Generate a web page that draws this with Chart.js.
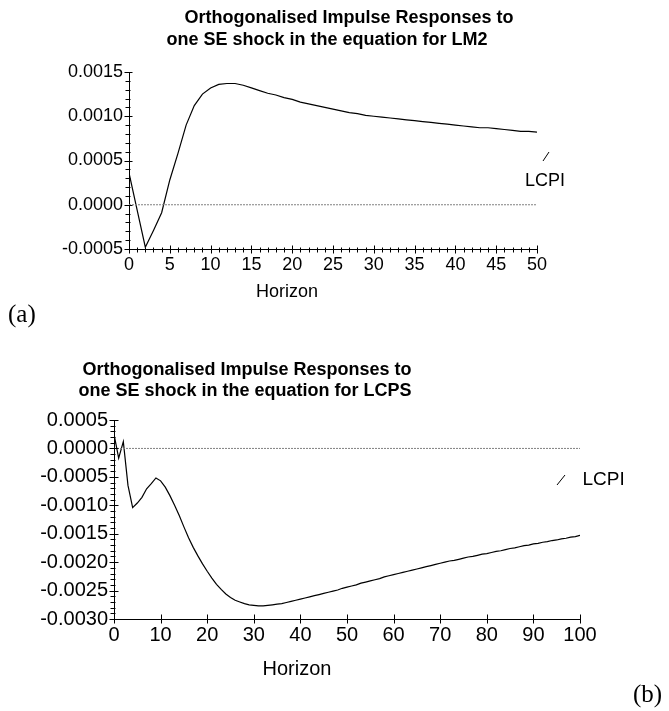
<!DOCTYPE html>
<html>
<head>
<meta charset="utf-8">
<script src="https://cdn.jsdelivr.net/npm/chart.js@4"></script>
<style>
  html, body { margin: 0; padding: 0; background: #fff; }
  #wrap { position: relative; width: 669px; height: 711px; }
  canvas { position: absolute; left: 0; }
</style>
</head>
<body>
<div id="wrap">
  <canvas id="chartA" width="669" height="330" style="top:0px"></canvas>
  <canvas id="chartB" width="669" height="381" style="top:330px"></canvas>
</div>
<script>
// (a) response of LCPI to LM2 shock, horizons 0..50
const horizonsA = Array.from({ length: 51 }, (_, i) => i);
const lcpiToLM2 = [
  0.00036, -0.00006, -0.00048, -0.00029, -0.00009, 0.00028, 0.00058, 0.00090, 0.00112, 0.00125,
  0.00132, 0.00136, 0.00137, 0.00137, 0.00135, 0.00132, 0.00129, 0.00126, 0.00124, 0.00121,
  0.00119, 0.00116, 0.00114, 0.00112, 0.00110, 0.00108, 0.00106, 0.00104, 0.00103, 0.00101,
  0.00100, 0.00099, 0.00098, 0.00097, 0.00096, 0.00095, 0.00094, 0.00093, 0.00092, 0.00091,
  0.00090, 0.00089, 0.00088, 0.00087, 0.00087, 0.00086, 0.00085, 0.00084, 0.00083, 0.00083,
  0.00082
];

// (b) response of LCPI to LCPS shock, horizons 0..100
const horizonsB = Array.from({ length: 101 }, (_, i) => i);
const lcpiToLCPS = [
  0.00025, -0.00017, 0.00012, -0.00065, -0.00104, -0.00096, -0.00086, -0.00071, -0.00062, -0.00052,
  -0.00057, -0.00068, -0.00083, -0.00100, -0.00118, -0.00138, -0.00157, -0.00174, -0.00189, -0.00203,
  -0.00216, -0.00228, -0.00239, -0.00248, -0.00256, -0.00262, -0.00267, -0.00270, -0.00273, -0.00275,
  -0.00276, -0.00277, -0.00277, -0.00276, -0.00275, -0.00274, -0.00273, -0.00271, -0.00269, -0.00267,
  -0.00265, -0.00263, -0.00261, -0.00259, -0.00257, -0.00255, -0.00253, -0.00251, -0.00249, -0.00246,
  -0.00244, -0.00242, -0.00240, -0.00237, -0.00235, -0.00233, -0.00231, -0.00229, -0.00226, -0.00224,
  -0.00222, -0.00220, -0.00218, -0.00216, -0.00214, -0.00212, -0.00210, -0.00208, -0.00206, -0.00204,
  -0.00202, -0.00200, -0.00198, -0.00197, -0.00195, -0.00193, -0.00191, -0.00190, -0.00188, -0.00186,
  -0.00185, -0.00183, -0.00181, -0.00180, -0.00178, -0.00176, -0.00175, -0.00173, -0.00171, -0.00170,
  -0.00168, -0.00167, -0.00165, -0.00164, -0.00162, -0.00161, -0.00159, -0.00158, -0.00156, -0.00155,
  -0.00153
];

const titleA = ['Orthogonalised Impulse Responses to', 'one SE shock in the equation for LM2'];
const titleB = ['Orthogonalised Impulse Responses to', 'one SE shock in the equation for LCPS'];
const seriesName = 'LCPI';
const xTitle = 'Horizon';

const SANS = '"Liberation Sans", Arial, Helvetica, sans-serif';
const SERIF = '"Liberation Serif", "Times New Roman", serif';

function fmt(v) {
  if (Math.abs(v) < 1e-10) return '0.0000';
  return v.toFixed(4);
}

// draws crossing tick marks (major + minor), titles, legend mark and panel tag
const decorations = {
  id: 'decorations',
  afterDraw(chart, args, o) {
    const ctx = chart.ctx;
    const xs = chart.scales.x, ys = chart.scales.y;
    ctx.save();
    ctx.strokeStyle = '#000';
    ctx.lineWidth = 1;

    const axisY = Math.round(xs.top) + 0.5;
    let n = Math.round((xs.max - xs.min) / o.xMinor);
    let every = Math.round(o.xMajor / o.xMinor);
    for (let i = 0; i <= n; i++) {
      const px = Math.round(xs.getPixelForValue(xs.min + i * o.xMinor)) + 0.5;
      const len = i % every === 0 ? o.majLen : o.minLen;
      ctx.beginPath();
      ctx.moveTo(px, axisY - len[0]);
      ctx.lineTo(px, axisY + len[1]);
      ctx.stroke();
    }

    const axisX = Math.round(ys.right) - 0.5;
    n = Math.round((ys.max - ys.min) / o.yMinor);
    every = Math.round(o.yMajor / o.yMinor);
    for (let i = 0; i <= n; i++) {
      const py = Math.round(ys.getPixelForValue(ys.min + i * o.yMinor)) + 0.5;
      const len = i % every === 0 ? o.majLen : o.minLen;
      ctx.beginPath();
      ctx.moveTo(axisX - len[1], py);
      ctx.lineTo(axisX + len[0], py);
      ctx.stroke();
    }

    // legend: slanted line mark + label
    ctx.beginPath();
    ctx.moveTo(o.legend.mark[0], o.legend.mark[1]);
    ctx.lineTo(o.legend.mark[2], o.legend.mark[3]);
    ctx.stroke();

    ctx.fillStyle = '#000';
    ctx.textBaseline = 'alphabetic';
    ctx.font = o.legend.size + 'px ' + SANS;
    ctx.textAlign = 'left';
    ctx.fillText(seriesName, o.legend.x, o.legend.y);

    ctx.textAlign = 'center';
    ctx.font = 'bold ' + o.titleSize + 'px ' + SANS;
    o.title.forEach((line, k) => ctx.fillText(line, o.titlePos[k][0], o.titlePos[k][1]));

    ctx.font = o.xTitleSize + 'px ' + SANS;
    ctx.fillText(xTitle, o.xTitlePos[0], o.xTitlePos[1]);

    ctx.textAlign = 'left';
    ctx.font = '25px ' + SERIF;
    ctx.fillText(o.tag, o.tagPos[0], o.tagPos[1]);
    ctx.restore();
  }
};

function makeChart(id, horizons, values, cfg) {
  const points = horizons.map((h, i) => ({ x: h, y: values[i] }));
  const zero = [{ x: cfg.xMin, y: 0 }, { x: cfg.xMax, y: 0 }];
  return new Chart(document.getElementById(id), {
    type: 'line',
    data: {
      datasets: [
        { label: 'zero', data: zero, borderColor: '#808080', borderWidth: 1, borderDash: [2, 1], pointRadius: 0 },
        { label: seriesName, data: points, borderColor: '#000', borderWidth: 1.2, pointRadius: 0, tension: 0 }
      ]
    },
    options: {
      responsive: false,
      animation: false,
      layout: { padding: { top: cfg.top, right: cfg.right, left: 0, bottom: 0 } },
      plugins: {
        legend: { display: false },
        tooltip: { enabled: false },
        decorations: cfg.deco
      },
      scales: {
        x: {
          type: 'linear', min: cfg.xMin, max: cfg.xMax,
          grid: { display: false, drawTicks: false },
          border: { display: true, color: '#000', width: 1 },
          ticks: { stepSize: cfg.xStep, autoSkip: false, maxRotation: 0, padding: cfg.xPad, color: '#000',
                   font: { family: SANS, size: cfg.tickSize } },
          afterFit: s => { s.height = cfg.xHeight; }
        },
        y: {
          min: cfg.yMin, max: cfg.yMax,
          grid: { display: false, drawTicks: false },
          border: { display: true, color: '#000', width: 1 },
          ticks: { stepSize: cfg.yStep, padding: 6, color: '#000', callback: v => fmt(v),
                   font: { family: SANS, size: cfg.tickSize } },
          afterFit: s => { s.width = cfg.yWidth; }
        }
      }
    },
    plugins: [decorations]
  });
}

makeChart('chartA', horizonsA, lcpiToLM2, {
  xMin: 0, xMax: 50, xStep: 5, yMin: -0.0005, yMax: 0.0015, yStep: 0.0005,
  top: 72, right: 132, xHeight: 81, yWidth: 129, xPad: 5, tickSize: 18,
  deco: {
    xMinor: 1, xMajor: 5, yMinor: 0.0001, yMajor: 0.0005,
    majLen: [4, 4], minLen: [2, 3],
    legend: { mark: [543, 161, 549, 152], x: 525, y: 185.5, size: 18 },
    title: titleA, titleSize: 18, titlePos: [[349, 23], [327, 45]],
    xTitleSize: 18, xTitlePos: [287, 297.3],
    tag: '(a)', tagPos: [8, 322]
  }
});

makeChart('chartB', horizonsB, lcpiToLCPS, {
  xMin: 0, xMax: 100, xStep: 10, yMin: -0.003, yMax: 0.0005, yStep: 0.0005,
  top: 90, right: 89, xHeight: 92, yWidth: 114, xPad: 4, tickSize: 20,
  deco: {
    xMinor: 10, xMajor: 10, yMinor: 0.0001, yMajor: 0.0005,
    majLen: [5, 4], minLen: [2, 3],
    legend: { mark: [557, 155, 565, 145], x: 582.5, y: 154.8, size: 19 },
    title: titleB, titleSize: 18, titlePos: [[247, 44.6], [245, 65.8]],
    xTitleSize: 20, xTitlePos: [297, 344.7],
    tag: '(b)', tagPos: [633, 372]
  }
});
</script>
</body>
</html>
